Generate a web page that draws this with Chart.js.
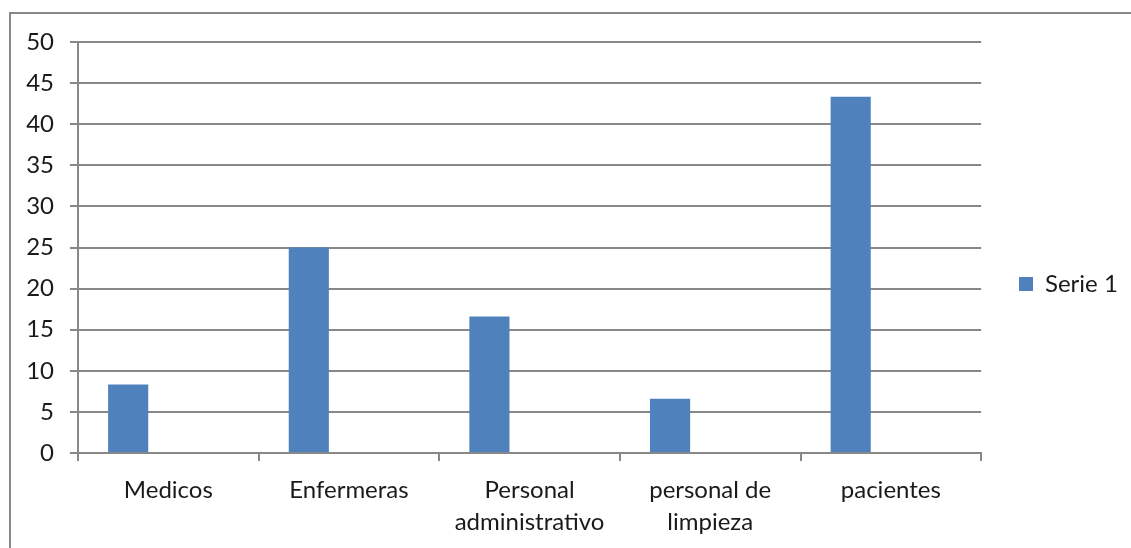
<!DOCTYPE html>
<html>
<head>
<meta charset="utf-8">
<script src="https://cdn.jsdelivr.net/npm/chart.js@4"></script>
<style>
  html, body { margin: 0; padding: 0; background: #fff; }
  #marco { position: absolute; left: 9px; top: 12px; width: 1140px; height: 560px; border: 2px solid #888; }
  #wrap { position: absolute; left: 0; top: 0; width: 1131px; height: 548px; }
</style>
</head>
<body>
<div id="marco"></div>
<div id="wrap"><canvas id="grafico"></canvas></div>
<script>
// Categorias del eje X
const categorias = ['Medicos', 'Enfermeras', ['Personal', 'administrativo'], ['personal de', 'limpieza'], 'pacientes'];

// Valores de las series (Serie 2 y 3 vacias, como en la hoja original)
const serie1 = [8.33, 25, 16.6, 6.6, 43.33];
const serie2 = [];
const serie3 = [];

// Eje Y
const yMin = 0;
const yMax = 50;
const yPaso = 5;

const colorGris = '#888888';
const fuente = { family: 'Lato', size: 24, lineHeight: 1.3 };

const data = {
  labels: categorias,
  datasets: [
    { label: 'Serie 1', data: serie1, backgroundColor: '#4f81bd', borderWidth: 0 },
    { label: 'Serie 2', data: serie2, backgroundColor: '#c0504d', borderWidth: 0 },
    { label: 'Serie 3', data: serie3, backgroundColor: '#9bbb59', borderWidth: 0 }
  ]
};

// mueve la leyenda a su sitio (como en Excel, separada del area del grafico)
const moverLeyenda = {
  id: 'moverLeyenda',
  afterLayout(chart) {
    const l = chart.legend;
    const dx = 1020 - (l.left + 11);
    const dy = -11;
    l.left += dx; l.right += dx;
    l.top += dy; l.bottom += dy;
  }
};

const config = {
  type: 'bar',
  data: data,
  plugins: [moverLeyenda],
  options: {
    responsive: false,
    animation: false,
    datasets: { bar: { categoryPercentage: 3 / 4.5, barPercentage: 1 } },
    layout: { padding: { top: 42, left: 0, right: 31, bottom: 0 } },
    plugins: {
      tooltip: { enabled: false },
      legend: {
        position: 'right',
        labels: {
          font: fuente,
          color: '#1a1a1a',
          boxWidth: 14,
          boxHeight: 14,
          padding: 10,
          filter: (item) => item.text === 'Serie 1'
        }
      }
    },
    scales: {
      x: {
        grid: { display: true, drawOnChartArea: false, drawTicks: true, tickLength: 8, color: colorGris, lineWidth: 2, offset: true },
        border: { display: true, color: colorGris, width: 2 },
        ticks: { font: fuente, color: '#1a1a1a', padding: 14, maxRotation: 0, autoSkip: false },
        afterFit: (s) => { s.height = 95; }
      },
      y: {
        min: yMin,
        max: yMax,
        grid: { color: colorGris, lineWidth: 2, drawTicks: true, tickLength: 8 },
        border: { display: true, color: colorGris, width: 2 },
        ticks: { stepSize: yPaso, font: fuente, color: '#1a1a1a', padding: 16 },
        afterFit: (s) => { s.width = 78; }
      }
    }
  }
};

const canvas = document.getElementById('grafico');
canvas.width = 1131;
canvas.height = 548;
const grafico = new Chart(canvas, config);
</script>
</body>
</html>
